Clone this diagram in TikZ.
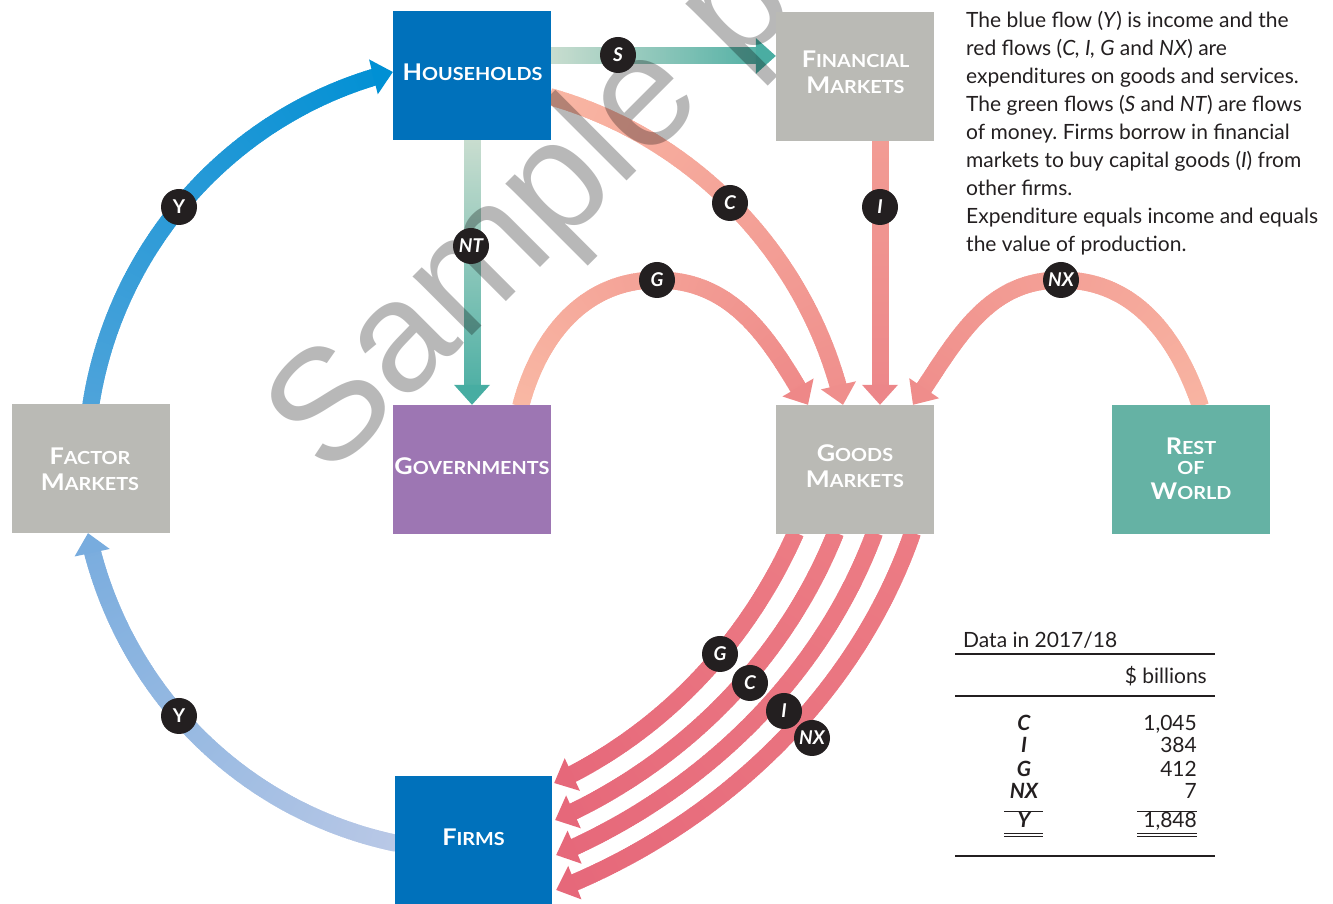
\documentclass[tikz,border=0pt]{standalone}
\usepackage{fontspec}
\setmainfont{Lato}
\newfontfamily\boxfont[FakeStretch=1.1]{Lato}
\newfontfamily\wmfont{Liberation Sans}
\usetikzlibrary{decorations.markings,calc}
\pgfdeclarelayer{flowlayer}
\pgfdeclarelayer{wmlayer}
\pgfsetlayers{flowlayer,wmlayer,main}
\frenchspacing

\definecolor{hhblue}{HTML}{0071BB}
\definecolor{boxgray}{HTML}{BABAB5}
\definecolor{govpurple}{HTML}{9D76B3}
\definecolor{rowteal}{HTML}{65B2A4}
\definecolor{dotblack}{HTML}{231F20}
\definecolor{ink}{HTML}{231F20}
\definecolor{ytA}{HTML}{4EA3DA}\definecolor{ytB}{HTML}{0090D4}
\definecolor{ybA}{HTML}{B9C8E6}\definecolor{ybB}{HTML}{78ACDE}
\definecolor{sA}{HTML}{C9DDCF}\definecolor{sB}{HTML}{4AADA2}
\definecolor{ntA}{HTML}{C9DDCF}\definecolor{ntB}{HTML}{47ADA2}
\definecolor{cA}{HTML}{F9B6A3}\definecolor{cB}{HTML}{EF8E8C}
\definecolor{iA}{HTML}{F29C94}\definecolor{iB}{HTML}{EC8689}
\definecolor{gA}{HTML}{F9B8A4}\definecolor{gB}{HTML}{EE8888}
\definecolor{nA}{HTML}{F8B4A2}\definecolor{nB}{HTML}{EF8D8B}
\definecolor{bA}{HTML}{EC7C84}\definecolor{bB}{HTML}{E6687A}

\newcommand\smc[2]{{\fontsize{23}{26}\selectfont #1}{\fontsize{18}{26}\selectfont #2}}

\tikzset{
  box/.style={minimum width=158pt, minimum height=129pt, inner sep=0pt, draw=none},
  boxtext/.style={inner sep=0pt, text=white, align=center, font=\boxfont\bfseries\fontsize{23}{26}\selectfont},
  dot/.style={circle, fill=dotblack, minimum size=36pt, inner sep=0pt, text=white, font=\bfseries\itshape\fontsize{19}{19}\selectfont},
  gflow/.style n args={2}{
    postaction={decorate, decoration={markings,
      mark=between positions 0 and 1 step 2pt with {%
        \pgfmathsetmacro\gd{\pgfkeysvalueof{/pgf/decoration/mark info/distance from start}}%
        \pgfmathsetmacro\gl{\pgfdecoratedpathlength}%
        \pgfmathtruncatemacro\gok{(\gd < \gl-18) ? 1 : 0}%
        \ifnum\gok=1
          \pgfmathsetmacro\gp{(\gd/\gl)*100}%
          \draw[line width=17pt, color=#2!\gp!#1] (-1.6pt,0) -- (1.6pt,0);%
        \fi}}},
    postaction={decorate, decoration={markings,
      mark=at position -0.4pt with {\fill[#2] (0.4pt,0) -- (-19.6pt,18pt) -- (-19.6pt,-18pt) -- cycle;}}}},
  rule/.style={draw=ink, line width=1.6pt},
  thinrule/.style={draw=ink, line width=0.9pt}
}

\begin{document}
\begin{tikzpicture}[x=1pt,y=1pt]
\useasboundingbox (0,0) rectangle (1333,904);

% ---------- boxes ----------
\node[box, fill=hhblue] (hh) at (472,828.5) {};
\node[box, fill=boxgray] (fin) at (855,827.5) {};
\node[box, fill=govpurple] (gov) at (472,434.5) {};
\node[box, fill=boxgray] (goods) at (855,434.5) {};
\node[box, fill=rowteal] (row) at (1191,434.5) {};
\node[box, fill=boxgray] (fac) at (91,435.5) {};
\node[box, fill=hhblue, minimum width=157pt, minimum height=128pt] (firms) at (473.5,64) {};

\node[boxtext] (hhT) at (472.5,832) {\smc{H}{OUSEHOLDS}};
\node[boxtext] (finT) at (855.5,831.5) {\smc{F}{INANCIAL}\\\smc{M}{ARKETS}};
\node[boxtext] (govT) at (472,438) {\smc{G}{OVERNMENTS}};
\node[boxtext] (goodsT) at (855,437.5) {\smc{G}{OODS}\\\smc{M}{ARKETS}};
\node[boxtext] (rowT) at (1191,435.5) {\smc{R}{EST}\\[-6pt]{\fontsize{18}{26}\selectfont OF}\\[-1pt]\smc{W}{ORLD}};
\node[boxtext] (facT) at (90,434.5) {\smc{F}{ACTOR}\\\smc{M}{ARKETS}};
\node[boxtext] (firmsT) at (473.5,66.5) {\smc{F}{IRMS}};

% ---------- flow labels ----------
\node[dot, font=\bfseries\fontsize{19}{19}\selectfont] (lYt) at (179,697) {Y};
\node[dot, font=\bfseries\fontsize{19}{19}\selectfont] (lYb) at (179,188) {Y};
\node[dot] (lS) at (618,849) {S};
\node[dot] (lNT) at (471,658) {NT};
\node[dot] (lC) at (730,701) {C};
\node[dot] (lI) at (880,697) {I};
\node[dot] (lG) at (657,624) {G};
\node[dot] (lNX) at (1061,624) {NX};
\node[dot] (lG2) at (720,250) {G};
\node[dot] (lC2) at (750,221) {C};
\node[dot] (lI2) at (784,193) {I};
\node[dot] (lNX2) at (812,166) {NX};

% ---------- connector end points ----------
\coordinate (ytE) at ($(hh.west)+(0,3.5)$);
\coordinate (ybS) at ($(firms.west)+(0,-3)$);
\coordinate (ybE) at ($(fac.south)+(-3,0)$);
\coordinate (sS) at ($(hh.east)+(0,19.5)$);
\coordinate (sE) at ($(fin.west)+(0,20.5)$);
\coordinate (cS) at ($(hh.east)+(0,-21.5)$);
\coordinate (cE) at ($(goods.north)+(-12,0)$);
\coordinate (iS) at ($(fin.south)+(25,0)$);
\coordinate (iE) at ($(goods.north)+(25,0)$);
\coordinate (gS) at ($(gov.north)+(49,0)$);
\coordinate (gE) at ($(goods.north)+(-47,0)$);
\coordinate (nS) at ($(row.north)+(9,0)$);
\coordinate (nE) at ($(goods.north)+(58,0)$);
\coordinate (b1S) at ($(goods.south)+(-60,0)$);
\coordinate (b2S) at ($(goods.south)+(-20,0)$);
\coordinate (b3S) at ($(goods.south)+(19,0)$);
\coordinate (b4S) at ($(goods.south)+(57,0)$);
\coordinate (b1E) at ($(firms.east)+(2,57)$);
\coordinate (b2E) at ($(firms.east)+(3,20)$);
\coordinate (b3E) at ($(firms.east)+(4,-15)$);
\coordinate (b4E) at ($(firms.east)+(4,-50)$);

% ---------- flows ----------
\begin{pgfonlayer}{flowlayer}
\path[gflow={ytA}{ytB}] (fac.north) to[out=81,in=194,looseness=0.93] (ytE);
\path[gflow={ybA}{ybB}] (ybS) to[out=168,in=282,looseness=0.93] (ybE);
\path[gflow={sA}{sB}] (sS) -- (sE);
\path[gflow={ntA}{ntB}] (hh.south) -- (gov.north);
\path[gflow={cA}{cB}] (cS) to[out=-16,in=103,looseness=0.91] (cE);
\path[gflow={iA}{iB}] (iS) -- (iE);
\path[gflow={gA}{gB}] (gS) to[out=75,in=180] (lG.center) to[out=0,in=120] (gE);
\path[gflow={nA}{nB}] (nS) to[out=109,in=0] (lNX.center) to[out=180,in=56] (nE);
\path[gflow={bA}{bB}] (b1S) to[out=246,in=25,looseness=0.88] (b1E);
\path[gflow={bA}{bB}] (b2S) to[out=248,in=24,looseness=0.88] (b2E);
\path[gflow={bA}{bB}] (b3S) to[out=249.5,in=23,looseness=0.88] (b3E);
\path[gflow={bA}{bB}] (b4S) to[out=250.7,in=21.5,looseness=0.88] (b4E);
\end{pgfonlayer}

% ---------- watermark ----------
\begin{pgfonlayer}{wmlayer}
\begin{scope}
\clip (0,0) rectangle (1333,904);
\node[rotate=45, anchor=base west, inner sep=0pt, text=black, text opacity=0.28,
      font=\wmfont\fontsize{158}{158}\selectfont] (wm) at (328,424) {Sample pa};
\end{scope}
\end{pgfonlayer}

% ---------- explanatory text ----------
\node[anchor=base west, inner sep=0pt, text=ink] (info) at (966,876)
 {\parbox[t]{420pt}{\fontsize{21}{28}\selectfont\raggedright
 The blue flow (\textit{Y}) is income and the\\
 red flows (\textit{C, I, G} and \textit{NX}) are\\
 expenditures on goods and services.\\
 The green flows (\textit{S} and \textit{NT}) are flows\\
 of money. Firms borrow in financial\\
 markets to buy capital goods (\textit{I}) from\\
 other firms.\\
 Expenditure equals income and equals\\
 the value of production.}};

% ---------- data table ----------
\begin{scope}[every node/.style={inner sep=0pt, text=ink, font=\fontsize{21}{21}\selectfont}]
\node[anchor=base west] (tdata) at (963,256) {Data in 2017/18};
\node[anchor=base east] (tunit) at (1207,220) {\$ billions};
\node[anchor=base, font=\bfseries\itshape\fontsize{21}{21}\selectfont] (tC) at (1024,173) {C};
\node[anchor=base, font=\bfseries\itshape\fontsize{21}{21}\selectfont] (tI) at (1024,151) {I};
\node[anchor=base, font=\bfseries\itshape\fontsize{21}{21}\selectfont] (tG) at (1024,127) {G};
\node[anchor=base, font=\bfseries\itshape\fontsize{21}{21}\selectfont] (tNX) at (1024,105) {NX};
\node[anchor=base, font=\bfseries\itshape\fontsize{21}{21}\selectfont] (tY) at (1024,76) {Y};
\node[anchor=base east] (vC) at (1197,173) {1,045};
\node[anchor=base east] (vI) at (1197,151) {384};
\node[anchor=base east] (vG) at (1197,127) {412};
\node[anchor=base east] (vNX) at (1197,105) {7};
\node[anchor=base east] (vY) at (1197,76) {1,848};
\end{scope}
\draw[rule] (955,250) -- (1215,250);
\draw[rule] (955,208) -- (1215,208);
\draw[thinrule] (1004,93) -- (1043,93);
\draw[thinrule] (1137,93) -- (1197,93);
\draw[thinrule] (1004,71) -- (1043,71);
\draw[thinrule] (1004,68) -- (1043,68);
\draw[thinrule] (1137,71) -- (1197,71);
\draw[thinrule] (1137,68) -- (1197,68);
\draw[rule] (955,48) -- (1215,48);
\end{tikzpicture}
\end{document}
